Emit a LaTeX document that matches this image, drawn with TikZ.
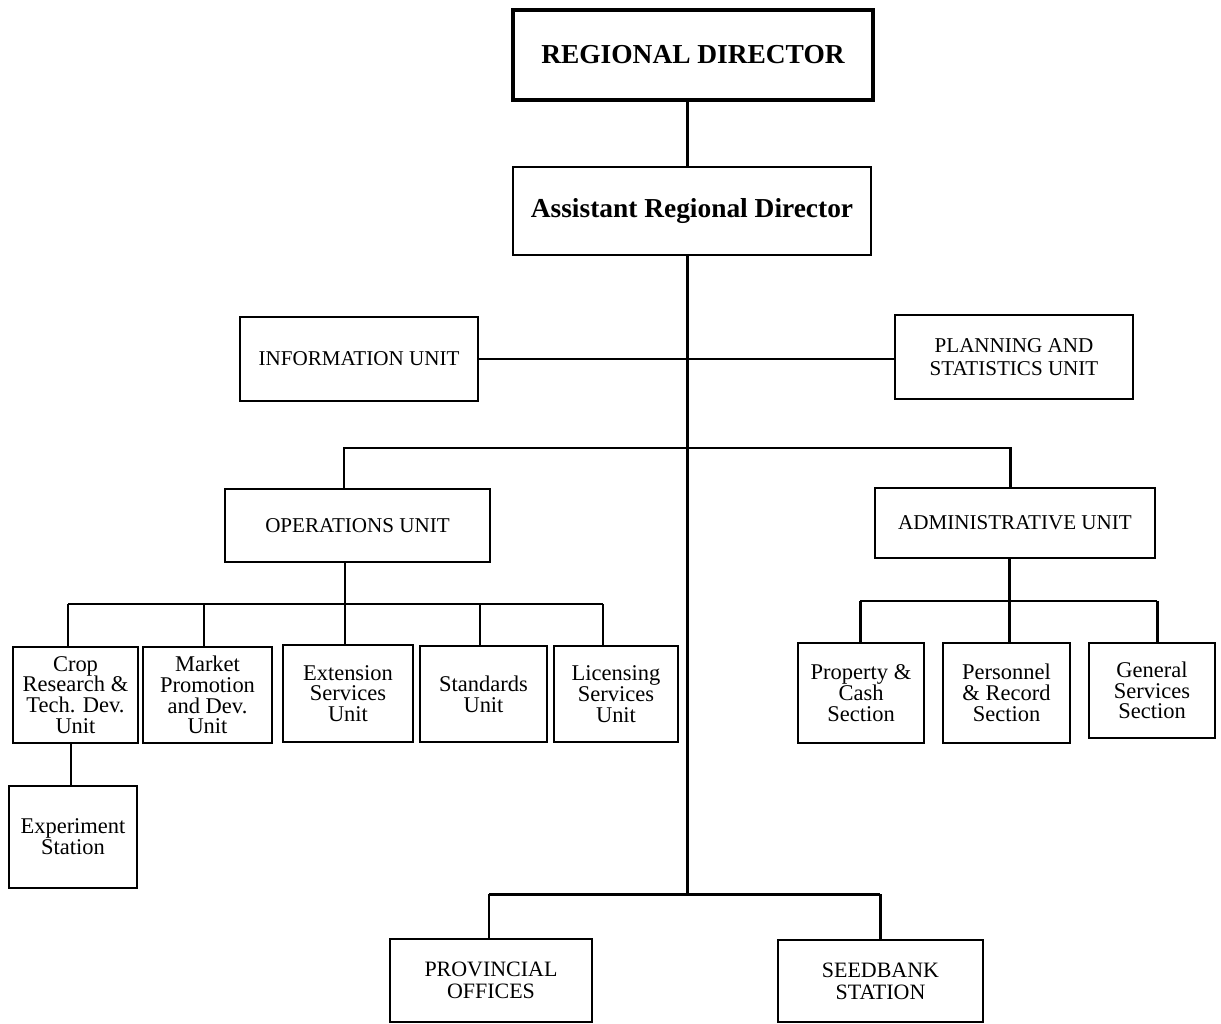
\documentclass[tikz,border=0pt]{standalone}
\usepackage{fontspec}
\setmainfont{Liberation Serif}
\begin{document}
\begin{tikzpicture}[x=0.02cm,y=-0.02cm,
  box/.style={draw=black, line width=1.4pt, rectangle, align=center, inner sep=1pt, fill=white},
  title/.style={box, font=\fontsize{15.6}{17}\selectfont\bfseries},
  capsbox/.style={box, font=\fontsize{12}{13}\selectfont},
  smallbox/.style={box, font=\fontsize{12.8}{11.8}\selectfont},
  link/.style={draw=black, line width=1.7pt}]
  \useasboundingbox (0,0) rectangle (1221,1024);
  \fill[white] (0,0) rectangle (1221,1024);

  % top of the hierarchy
  \node[title, line width=2.3pt, minimum width=7.2cm, minimum height=1.8cm] (rd) at (693,55) {REGIONAL DIRECTOR};
  \node[title, minimum width=7.16cm, minimum height=1.76cm] (ard) at (692,211) {Assistant Regional Director};

  % staff units
  \node[capsbox, minimum width=4.76cm, minimum height=1.68cm] (info) at (359,359) {INFORMATION UNIT};
  \node[capsbox, minimum width=4.76cm, minimum height=1.68cm] (plan) at (1014,357) {PLANNING AND\\STATISTICS UNIT};

  % line units
  \node[capsbox, minimum width=5.3cm, minimum height=1.46cm] (ops) at (357.5,525.5) {OPERATIONS UNIT};
  \node[capsbox, minimum width=5.6cm, minimum height=1.4cm] (adm) at (1015,523) {ADMINISTRATIVE UNIT};

  % operations sections
  \node[smallbox, minimum width=2.5cm, minimum height=1.92cm] (crop) at (75.5,695) {Crop\\Research \&\\Tech. Dev.\\Unit};
  \node[smallbox, minimum width=2.58cm, minimum height=1.92cm] (mkt) at (207.5,695) {Market\\Promotion\\and Dev.\\Unit};
  \node[smallbox, minimum width=2.6cm, minimum height=1.94cm] (ext) at (348,693.5) {Extension\\Services\\Unit};
  \node[smallbox, minimum width=2.54cm, minimum height=1.92cm] (std) at (483.5,694) {Standards\\Unit};
  \node[smallbox, minimum width=2.48cm, minimum height=1.92cm] (lic) at (616,694) {Licensing\\Services\\Unit};
  \node[smallbox, minimum width=2.56cm, minimum height=2.04cm] (exp) at (73,837) {Experiment\\Station};

  % administrative sections
  \node[smallbox, minimum width=2.52cm, minimum height=2.0cm] (prop) at (861,693) {Property \&\\Cash\\Section};
  \node[smallbox, minimum width=2.54cm, minimum height=2.0cm] (pers) at (1006.5,693) {Personnel\\\& Record\\Section};
  \node[smallbox, minimum width=2.52cm, minimum height=1.9cm] (gen) at (1152,690.5) {General\\Services\\Section};

  % field offices
  \node[capsbox, font=\fontsize{12.5}{12.5}\selectfont, minimum width=4.04cm, minimum height=1.66cm] (prov) at (491,980.5) {PROVINCIAL\\OFFICES};
  \node[capsbox, font=\fontsize{12.5}{12.5}\selectfont, minimum width=4.1cm, minimum height=1.64cm] (seed) at (880.5,981) {SEEDBANK\\STATION};

  % junction points of the connectors
  \coordinate (trunk) at (687,894);
  \coordinate (opsx) at (344,448);
  \coordinate (admx) at (1010,448);
  \coordinate (b1) at (68,604);
  \coordinate (b2) at (204,604);
  \coordinate (b3) at (345,604);
  \coordinate (b4) at (480,604);
  \coordinate (b5) at (603,604);
  \coordinate (a1) at (860,601);
  \coordinate (a2) at (1009,601);
  \coordinate (a3) at (1157,601);
  \coordinate (ex) at (71,0);
  \coordinate (p1) at (489,894);
  \coordinate (p2) at (880,894);

  % main trunk
  \draw[link] (rd.south -| trunk) -- (ard.north -| trunk);
  \draw[link] (ard.south -| trunk) -- (trunk);

  % staff line
  \draw[link] (info.east) -- (info.east -| plan.west);

  % line units
  \draw[link] (ops.north -| opsx) -- (opsx) -- (admx) -- (adm.north -| admx);

  % operations sections
  \draw[link] (ops.south -| b3) -- (b3);
  \draw[link] (b1) -- (b5);
  \draw[link] (b1) -- (crop.north -| b1);
  \draw[link] (b2) -- (mkt.north -| b2);
  \draw[link] (b3) -- (ext.north -| b3);
  \draw[link] (b4) -- (std.north -| b4);
  \draw[link] (b5) -- (lic.north -| b5);
  \draw[link] (crop.south -| ex) -- (exp.north -| ex);

  % administrative sections
  \draw[link] (adm.south -| a2) -- (a2);
  \draw[link] (a1) -- (a3);
  \draw[link] (a1) -- (prop.north -| a1);
  \draw[link] (a2) -- (pers.north -| a2);
  \draw[link] (a3) -- (gen.north -| a3);

  % field offices
  \draw[link] (p1) -- (p2);
  \draw[link] (p1) -- (prov.north -| p1);
  \draw[link] (p2) -- (seed.north -| p2);
\end{tikzpicture}
\end{document}
